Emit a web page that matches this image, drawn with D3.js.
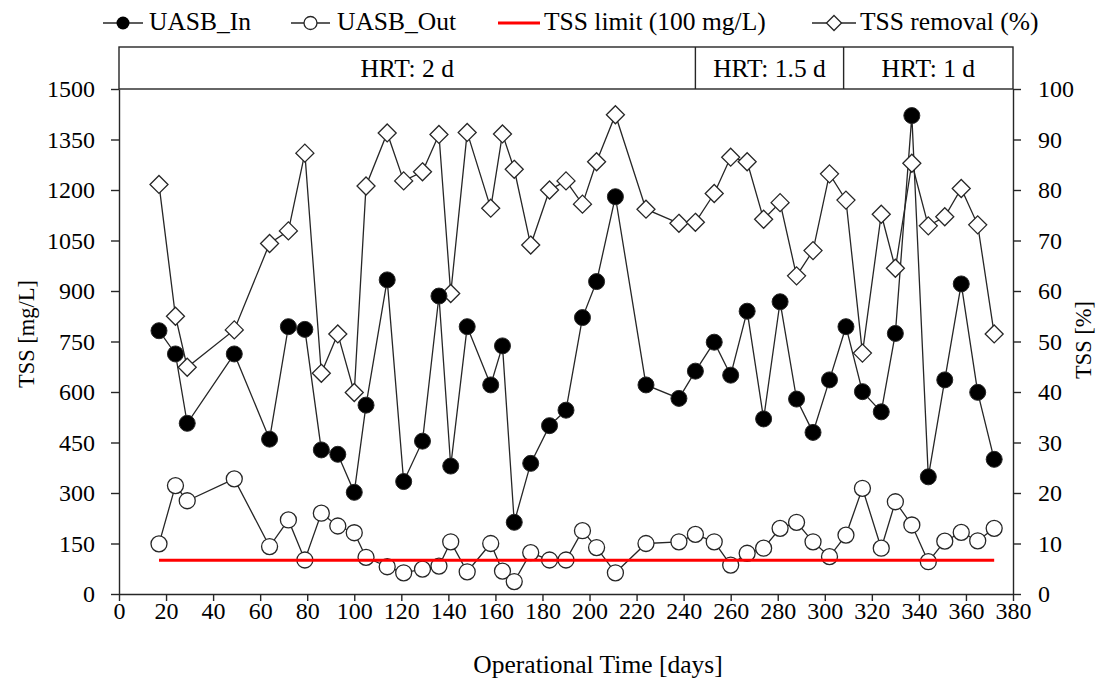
<!DOCTYPE html>
<html>
<head>
<meta charset="utf-8">
<script src="https://cdn.jsdelivr.net/npm/d3@7"></script>
<style>
  html, body { margin: 0; padding: 0; background: #fff; }
  svg { display: block; }
  text { font-family: "Liberation Serif", "Times New Roman", serif; fill: #000; }
</style>
</head>
<body>
<svg id="chart" width="1101" height="682"></svg>
<script>
// ---- data ----
const days = [17,24,29,49,64,72,79,86,93,100,105,114,121,129,136,141,148,158,163,168,175,183,190,197,203,211,224,238,245,253,260,267,274,281,288,295,302,309,316,324,330,337,344,351,358,365,372];
const uasbIn = [782,713,507,713,460,794,786,428,415,302,561,933,334,454,885,380,794,621,737,213,388,500,546,821,928,1180,621,581,662,748,650,840,520,868,579,480,636,794,601,541,774,1421,348,636,921,599,400];
const uasbOut = [149,322,277,342,141,220,101,240,202,182,109,81,63,74,83,155,66,150,68,37,123,101,101,188,138,63,150,155,177,155,86,121,136,195,213,155,111,175,314,136,274,205,96,157,183,158,195];
const removal = [81.1,55.0,44.9,52.3,69.4,71.9,87.3,43.7,51.5,39.9,80.8,91.3,81.8,83.6,91.0,59.5,91.4,76.4,91.1,84.1,69.1,80.0,81.8,77.2,85.6,94.9,76.2,73.4,73.6,79.3,86.5,85.6,74.2,77.5,63.0,68.0,83.2,78.0,47.7,75.2,64.5,85.3,72.9,74.7,80.3,73.1,51.5];
const tssLimit = 100;
const hrtLabels = ["HRT: 2 d", "HRT: 1.5 d", "HRT: 1 d"];
const hrtBounds = [0, 245, 308, 380];
const xTicks = d3.range(0, 381, 20);
const yLeftTicks = d3.range(0, 1501, 150);
const yRightTicks = d3.range(0, 101, 10);
const legendLabels = ["UASB_In", "UASB_Out", "TSS limit (100 mg/L)", "TSS removal (%)"];

// ---- layout ----
const L = 119, R = 1013, T = 89, B = 594;
const svg = d3.select("#chart");
const x = d3.scaleLinear().domain([0, 380]).range([L, R]);
const yL = d3.scaleLinear().domain([0, 1500]).range([B, T]);
const yR = d3.scaleLinear().domain([0, 100]).range([B, T]);
const ink = "#262626";
const tickFont = 24;
const fmt = d3.format("d");

// HRT box
const boxTop = 47;
svg.append("rect").attr("x", L).attr("y", boxTop).attr("width", R - L).attr("height", T - boxTop)
  .attr("fill", "none").attr("stroke", ink).attr("stroke-width", 1.4);
for (let i = 1; i < hrtBounds.length - 1; i++) {
  svg.append("line").attr("x1", x(hrtBounds[i])).attr("x2", x(hrtBounds[i]))
    .attr("y1", boxTop).attr("y2", T).attr("stroke", ink).attr("stroke-width", 1.4);
}
hrtLabels.forEach((lab, i) => {
  svg.append("text").attr("x", (x(hrtBounds[i]) + x(hrtBounds[i + 1])) / 2).attr("y", 77)
    .attr("text-anchor", "middle").attr("font-size", 25.5).text(lab);
});

// axes
function styleAxis(g) {
  g.selectAll("path").attr("stroke", ink).attr("stroke-width", 1.4);
  g.selectAll("line").attr("stroke", ink).attr("stroke-width", 1.4);
  g.selectAll("text").attr("font-size", tickFont).attr("fill", "#000")
    .style("font-family", '"Liberation Serif", "Times New Roman", serif');
}
const gx = svg.append("g").attr("transform", `translate(0,${B})`)
  .call(d3.axisBottom(x).tickValues(xTicks).tickFormat(fmt).tickSize(7).tickPadding(1).tickSizeOuter(0));
styleAxis(gx);
const gl = svg.append("g").attr("transform", `translate(${L},0)`)
  .call(d3.axisLeft(yL).tickValues(yLeftTicks).tickFormat(fmt).tickSize(8).tickPadding(16).tickSizeOuter(0));
styleAxis(gl);
const gr = svg.append("g").attr("transform", `translate(${R},0)`)
  .call(d3.axisRight(yR).tickValues(yRightTicks).tickFormat(fmt).tickSize(8).tickPadding(17).tickSizeOuter(0));
styleAxis(gr);

// axis titles
svg.append("text").attr("transform", `translate(34,334) rotate(-90)`).attr("text-anchor", "middle")
  .attr("font-size", 22.5).text("TSS [mg/L]");
svg.append("text").attr("transform", `translate(1091,340) rotate(-90)`).attr("text-anchor", "middle")
  .attr("font-size", 22.5).text("TSS [%]");
svg.append("text").attr("x", 598).attr("y", 673).attr("text-anchor", "middle")
  .attr("font-size", 25.5).text("Operational Time [days]");

// series lines
const idx = d3.range(days.length);
const lineIn = d3.line().x(i => x(days[i])).y(i => yL(uasbIn[i]));
const lineOut = d3.line().x(i => x(days[i])).y(i => yL(uasbOut[i]));
const lineRem = d3.line().x(i => x(days[i])).y(i => yR(removal[i]));
[lineRem, lineIn, lineOut].forEach(ln => {
  svg.append("path").attr("d", ln(idx)).attr("fill", "none").attr("stroke", ink).attr("stroke-width", 1.3);
});

// markers
const diamond = (cx, cy, s) => `M${cx},${cy - s}L${cx + s},${cy}L${cx},${cy + s}L${cx - s},${cy}Z`;
svg.append("g").selectAll("path").data(idx).join("path")
  .attr("d", i => diamond(x(days[i]), yR(removal[i]), 9))
  .attr("fill", "#fff").attr("stroke", ink).attr("stroke-width", 1.3);
svg.append("g").selectAll("circle").data(idx).join("circle")
  .attr("cx", i => x(days[i])).attr("cy", i => yL(uasbIn[i])).attr("r", 8)
  .attr("fill", "#000").attr("stroke", ink).attr("stroke-width", 1);
svg.append("g").selectAll("circle").data(idx).join("circle")
  .attr("cx", i => x(days[i])).attr("cy", i => yL(uasbOut[i])).attr("r", 8)
  .attr("fill", "#fff").attr("stroke", ink).attr("stroke-width", 1.3);

// limit line
svg.append("line").attr("x1", x(days[0])).attr("x2", x(days[days.length - 1]))
  .attr("y1", yL(tssLimit)).attr("y2", yL(tssLimit)).attr("stroke", "#ff0000").attr("stroke-width", 3);

// legend
const ly = 23, lty = 30;
const lg = svg.append("g");
const items = [
  {x1: 103, x2: 143, type: "filled", tx: 149},
  {x1: 291, x2: 330, type: "open", tx: 337},
  {x1: 498, x2: 540, type: "red", tx: 544},
  {x1: 812, x2: 856, type: "diamond", tx: 860}
];
items.forEach((it, i) => {
  const cx = (it.x1 + it.x2) / 2;
  if (it.type === "red") {
    lg.append("line").attr("x1", it.x1).attr("x2", it.x2).attr("y1", ly).attr("y2", ly)
      .attr("stroke", "#ff0000").attr("stroke-width", 3);
  } else {
    lg.append("line").attr("x1", it.x1).attr("x2", it.x2).attr("y1", ly).attr("y2", ly)
      .attr("stroke", ink).attr("stroke-width", 1.3);
  }
  if (it.type === "filled") lg.append("circle").attr("cx", cx).attr("cy", ly).attr("r", 6.5).attr("fill", "#000");
  if (it.type === "open") lg.append("circle").attr("cx", cx).attr("cy", ly).attr("r", 6.5).attr("fill", "#fff").attr("stroke", ink).attr("stroke-width", 1.3);
  if (it.type === "diamond") lg.append("path").attr("d", diamond(cx, ly, 7.5)).attr("fill", "#fff").attr("stroke", ink).attr("stroke-width", 1.3);
  lg.append("text").attr("x", it.tx).attr("y", lty).attr("font-size", 25.5).text(legendLabels[i]);
});
</script>
</body>
</html>
